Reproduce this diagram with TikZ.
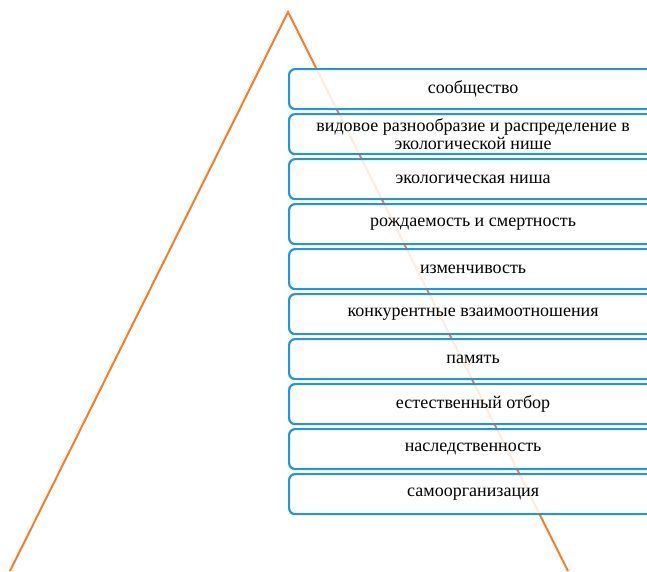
\documentclass[tikz,border=0pt]{standalone}
\usepackage{fontspec}
\setmainfont{Liberation Serif}
\newfontfamily\lvlfont{Liberation Serif}
\usepackage{tikz}
\usepackage{xcolor}
\definecolor{tri}{RGB}{247, 126, 36}
\definecolor{bx}{RGB}{35, 150, 215}

\begin{document}
\begin{tikzpicture}[x = 1pt, y = -1pt, line width = 2pt,
  lvl/.style = {draw = bx, fill = white, fill opacity = 0.85, text opacity = 1,
    rounded corners = 6pt, minimum width = 368pt, minimum height = 40pt,
    inner sep = 0pt, anchor = north west, align = center, line width = 2.2pt,
    font = \lvlfont\fontsize{18}{17.5}\selectfont}]
\useasboundingbox (0,0) rectangle (647,571);
\clip (0,0) rectangle (647,571);
\coordinate (top) at (288,12);
\coordinate (bl) at (10,571);
\coordinate (br) at (568,571);
\draw[tri] (bl) -- (top) -- (br);
\node[lvl] (n1) at (288,68) {сообщество};
\node[lvl] (n2) at (288,113) {видовое разнообразие и распределение в\\экологической нише};
\node[lvl] (n3) at (288,158) {экологическая ниша};
\node[lvl] (n4) at (288,203) {рождаемость и смертность};
\node[lvl] (n5) at (288,248) {изменчивость};
\node[lvl] (n6) at (288,293) {конкурентные взаимоотношения};
\node[lvl] (n7) at (288,338) {память};
\node[lvl] (n8) at (288,383) {естественный отбор};
\node[lvl] (n9) at (288,428) {наследственность};
\node[lvl] (n10) at (288,473) {самоорганизация};
\end{tikzpicture}
\end{document}
